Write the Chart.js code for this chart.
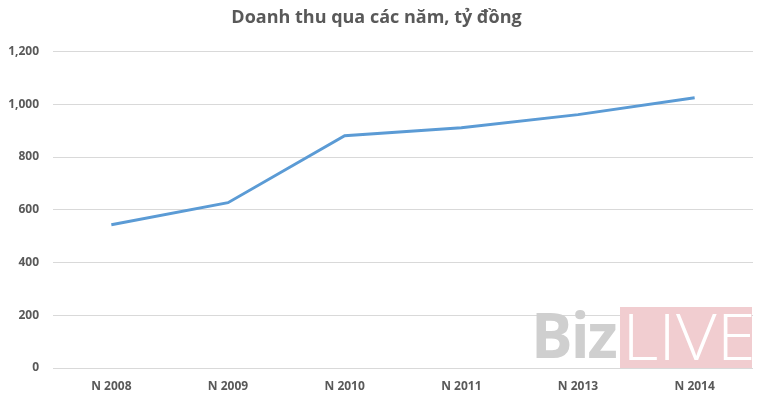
<!DOCTYPE html>
<html>
<head>
<meta charset="utf-8">
<script src="https://cdn.jsdelivr.net/npm/chart.js@4/dist/chart.umd.min.js"></script>
<style>
  html, body { margin: 0; padding: 0; background: #fff; }
  #wrap { position: relative; width: 768px; height: 405px; }
  .biz { position: absolute; left: 531px; top: 300px; height: 68px; color: #cfcfcf; font-family: "Open Sans", sans-serif; font-weight: 700; font-size: 62px; line-height: 68px; letter-spacing: -2px; }
  .live { position: absolute; left: 620px; top: 307px; width: 132px; height: 61px; background: #f1cdd0; overflow: hidden; }
  .live span { display: block; color: #fff; font-family: "Open Sans", sans-serif; font-weight: 300; font-size: 64px; line-height: 64px; margin-top: -3px; padding-left: 2px; transform: scaleX(1.1); transform-origin: left center; }
</style>
</head>
<body>
<div id="wrap">
  <canvas id="chart" width="768" height="405"></canvas>
  <div class="biz">Biz</div>
  <div class="live"><span>LIVE</span></div>
</div>
<script>
const years = ['N 2008', 'N 2009', 'N 2010', 'N 2011', 'N 2013', 'N 2014'];
const revenue = [543, 627, 881, 911, 961, 1025];

const tickFont = { family: '"Open Sans", sans-serif', size: 12, weight: 'bold' };

new Chart(document.getElementById('chart'), {
  type: 'line',
  data: {
    labels: years,
    datasets: [{
      data: revenue,
      borderColor: '#5b9bd5',
      borderWidth: 3,
      pointRadius: 0,
      tension: 0,
      fill: false,
    }],
  },
  options: {
    responsive: false,
    animation: false,
    layout: { padding: { left: 0, right: 15, top: 0, bottom: 0 } },
    plugins: {
      legend: { display: false },
      tooltip: { enabled: false },
      title: {
        display: true,
        text: 'Doanh thu qua các năm, tỷ đồng',
        color: '#595959',
        font: { family: '"Open Sans", sans-serif', size: 18, weight: 'bold', lineHeight: 1.2 },
        padding: { top: 7, bottom: 23 },
      },
    },
    scales: {
      x: {
        offset: true,
        grid: { display: false, drawTicks: false },
        border: { display: false },
        ticks: { color: '#595959', font: tickFont, padding: 11, maxRotation: 0 },
        afterFit: (s) => { s.height = 37; },
      },
      y: {
        min: 0,
        max: 1200,
        grid: { color: '#d9d9d9', drawTicks: false },
        border: { display: false },
        ticks: {
          stepSize: 200,
          color: '#595959',
          font: tickFont,
          padding: 14,
          callback: (v) => v.toLocaleString('en-US'),
        },
        afterFit: (s) => { s.width = 53; },
      },
    },
  },
});
</script>
</body>
</html>
